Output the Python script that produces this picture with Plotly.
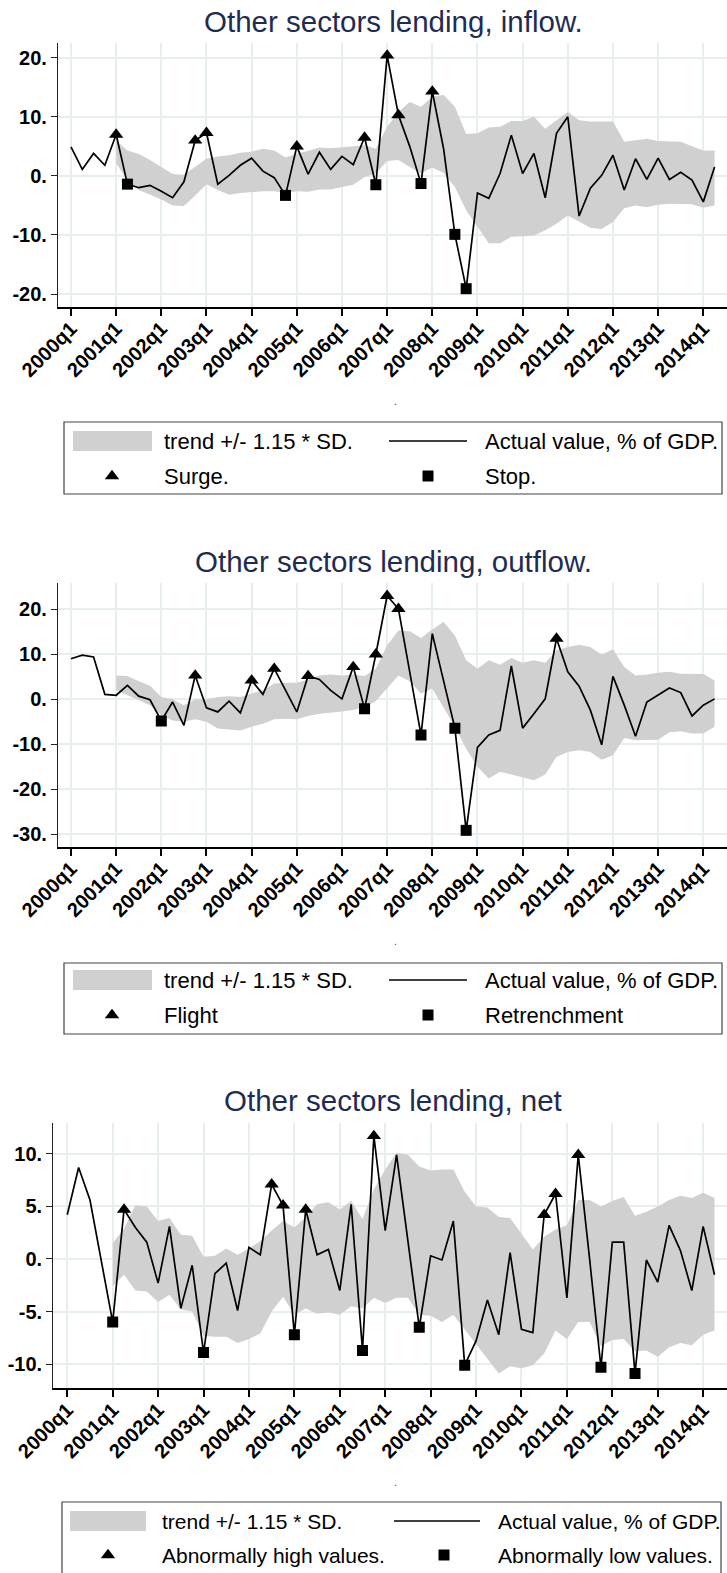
import plotly.graph_objects as go

W, H = 727, 1573

# quarterly periods 2000q1 .. 2014q2
quarters = [f"{yr}q{q}" for yr in range(2000, 2015) for q in range(1, 5)][:58]
year_ticks = ["2000q1", "2001q1", "2002q1", "2003q1", "2004q1", "2005q1", "2006q1",
              "2007q1", "2008q1", "2009q1", "2010q1", "2011q1", "2012q1", "2013q1", "2014q1"]
band_start = "2001q1"

# ---- Other sectors lending, inflow (% of GDP)
inflow_actual = [4.9, 1.1, 3.8, 1.8, 7.0, -1.4, -2.0, -1.6, -2.6, -3.7,
                 -1.0, 6.0, 7.3, -1.4, 0.1, 1.8, 3.0, 0.8, -0.3, -3.3,
                 5.0, 0.3, 4.0, 1.1, 3.3, 1.9, 6.5, -1.5, 20.4, 10.3,
                 5.0, -1.3, 14.3, 4.6, -9.9, -19.1, -2.9, -3.8, 0.4, 6.9,
                 0.4, 3.8, -3.7, 7.2, 10.0, -6.8, -2.1, 0.1, 3.5, -2.4,
                 2.9, -0.6, 3.0, -0.6, 0.6, -0.7, -4.4, 1.5]
inflow_upper = [6.0, 4.3, 3.7, 2.7, 1.5, 0.3, 0.2, 1.5, 2.9, 3.3,
                3.5, 3.9, 4.1, 4.6, 4.3, 3.1, 3.8, 4.2, 4.8, 4.7,
                4.9, 5.0, 5.2, 4.6, 8.3, 10.8, 12.5, 11.7, 13.4, 13.7,
                11.7, 7.1, 7.2, 8.2, 8.3, 9.3, 9.3, 10.0, 8.0, 9.4,
                10.8, 9.4, 9.2, 9.2, 9.2, 5.8, 6.0, 6.3, 5.9, 5.9,
                5.8, 5.0, 4.3, 4.3]
inflow_lower = [2.1, -0.7, -2.4, -3.2, -4.0, -5.0, -5.1, -3.3, -1.4, -2.4,
                -3.2, -2.9, -2.7, -2.6, -2.6, -2.9, -2.6, -2.7, -2.3, -2.3,
                -1.9, -1.5, -0.2, 0.4, 2.5, 2.7, 1.5, 0.4, 1.4, 0.5,
                -1.9, -5.8, -8.6, -11.4, -11.4, -10.3, -10.2, -10.1, -9.2, -8.1,
                -6.7, -7.8, -8.8, -9.0, -7.8, -5.5, -5.0, -5.3, -4.9, -4.7,
                -4.7, -4.8, -5.4, -5.0]
inflow_surge = ["2001q1", "2002q4", "2003q1", "2005q1", "2006q3", "2007q1", "2007q2", "2008q1"]
inflow_stop = ["2001q2", "2004q4", "2006q4", "2007q4", "2008q3", "2008q4"]

# ---- Other sectors lending, outflow (% of GDP)
outflow_actual = [9.0, 9.8, 9.4, 1.1, 0.9, 3.1, 0.7, -0.1, -4.8, -0.6,
                  -5.8, 5.3, -1.9, -2.8, -0.4, -3.0, 4.2, 1.1, 6.8, 1.9,
                  -2.8, 5.2, 4.4, 2.0, 0.1, 7.2, -2.1, 10.0, 23.0, 20.1,
                  6.1, -7.9, 14.6, 3.9, -6.4, -29.1, -10.7, -7.9, -6.9, 7.4,
                  -6.4, -3.2, 0.1, 13.5, 6.1, 2.9, -2.4, -10.1, 5.1, -1.3,
                  -8.2, -0.6, 0.9, 2.5, 1.5, -3.7, -1.3, 0.1]
outflow_upper = [5.3, 5.2, 4.0, 3.0, 0.5, 0.0, -1.3, 0.0, 0.0, 0.5,
                 0.7, 0.5, 1.3, 2.0, 3.5, 3.7, 3.7, 4.4, 5.3, 5.5,
                 5.3, 5.5, 5.2, 6.8, 12.0, 15.3, 15.1, 13.6, 15.5, 17.2,
                 14.2, 8.7, 6.8, 8.7, 7.7, 9.2, 8.1, 8.7, 8.1, 10.9,
                 11.6, 12.1, 11.6, 9.9, 11.1, 7.2, 5.3, 5.5, 5.9, 6.1,
                 5.7, 5.7, 5.6, 4.2]
outflow_lower = [2.0, 0.9, -0.2, -1.3, -3.6, -4.7, -5.0, -4.4, -5.0, -6.5,
                 -6.7, -6.9, -6.1, -5.4, -4.4, -4.3, -4.4, -3.7, -3.2, -3.0,
                 -2.7, -2.4, -1.7, -0.4, 2.5, 5.3, 4.0, 1.3, 2.4, -1.7,
                 -6.1, -11.0, -15.0, -17.6, -16.1, -16.7, -17.3, -18.0, -16.7, -12.8,
                 -11.7, -11.3, -11.7, -13.4, -12.4, -8.6, -9.1, -9.0, -9.0, -7.3,
                 -7.1, -7.6, -7.6, -6.1]
outflow_flight = ["2002q4", "2004q1", "2004q3", "2005q2", "2006q2", "2006q4",
                  "2007q1", "2007q2", "2010q4"]
outflow_retrench = ["2002q1", "2006q3", "2007q4", "2008q3", "2008q4"]

# ---- Other sectors lending, net (% of GDP)
net_actual = [4.2, 8.7, 5.6, -0.2, -6.0, 4.7, 3.0, 1.6, -2.3, 3.1,
              -4.7, -0.6, -8.9, -1.4, -0.4, -4.9, 1.1, 0.4, 7.1, 5.1,
              -7.2, 4.7, 0.4, 0.9, -3.0, 5.2, -8.7, 11.7, 2.7, 9.9,
              1.7, -6.5, 0.3, -0.1, 3.6, -10.1, -7.8, -3.9, -7.2, 0.6,
              -6.7, -7.0, 4.2, 6.2, -3.7, 9.9, 0.0, -10.3, 1.6, 1.6,
              -10.9, -0.1, -2.2, 3.2, 0.8, -3.0, 3.1, -1.5]
net_upper = [1.5, 2.9, 5.1, 5.0, 3.6, 3.9, 2.3, 2.2, 0.2, 0.3,
             1.0, 0.4, 1.0, 1.7, 2.7, 3.6, 3.0, 4.0, 5.2, 5.4,
             4.7, 5.5, 3.8, 6.6, 8.5, 10.1, 9.9, 8.8, 8.4, 8.5,
             8.5, 6.4, 5.0, 4.9, 4.0, 3.9, 2.4, 0.9, 2.1, 2.8,
             3.2, 5.6, 5.6, 5.0, 5.5, 5.9, 4.1, 4.5, 5.0, 5.6,
             6.0, 5.8, 6.3, 5.8]
net_lower = [-2.6, -1.5, -3.0, -3.1, -4.1, -3.4, -4.8, -5.0, -7.3, -7.4,
             -7.4, -8.0, -7.6, -7.1, -5.0, -3.6, -5.3, -4.7, -5.2, -5.1,
             -5.3, -4.5, -4.7, -3.7, -4.2, -3.7, -3.7, -5.3, -5.4, -6.0,
             -5.3, -6.7, -8.2, -9.6, -10.9, -10.2, -10.4, -10.1, -9.0, -6.8,
             -7.6, -6.0, -6.0, -8.3, -7.7, -7.6, -8.8, -8.7, -9.3, -8.4,
             -8.0, -8.2, -7.2, -6.8]
net_high = ["2001q2", "2004q3", "2004q4", "2005q2", "2006q4", "2010q3", "2010q4", "2011q2"]
net_low = ["2001q1", "2003q1", "2005q1", "2006q3", "2007q4", "2008q4", "2011q4", "2012q3"]

FONT = "Liberation Sans, Arial, sans-serif"
TITLE_COLOR = "#1f2c52"
GRID = "#e6eef0"
BAND = "#d0d0d0"

panels = [
    dict(title="Other sectors lending, inflow.", actual=inflow_actual, upper=inflow_upper,
         lower=inflow_lower, hi=inflow_surge, lo=inflow_stop, hi_name="Surge.", lo_name="Stop.",
         yticks=[-20, -10, 0, 10, 20], yrange=[-22.2, 22.5], ypx=(43, 307),
         xrange=[-1.15, 58.1], xpx=58, title_y=21,
         leg=dict(box=(64, 422, 722, 494), sw=(73, 152), line=(389, 467), c1=162, c2=483,
                  r1=441, r2=476, tri=112, sq=428, fs=22)),
    dict(title="Other sectors lending, outflow.", actual=outflow_actual, upper=outflow_upper,
         lower=outflow_lower, hi=outflow_flight, lo=outflow_retrench, hi_name="Flight",
         lo_name="Retrenchment",
         yticks=[-30, -20, -10, 0, 10, 20], yrange=[-32.8, 25.9], ypx=(582.7, 847),
         xrange=[-1.15, 58.1], xpx=58, title_y=561,
         leg=dict(box=(64, 963, 722, 1034), sw=(73, 152), line=(389, 467), c1=162, c2=483,
                  r1=980, r2=1015, tri=112, sq=428, fs=22)),
    dict(title="Other sectors lending, net", actual=net_actual, upper=net_upper,
         lower=net_lower, hi=net_high, lo=net_low, hi_name="Abnormally high values.",
         lo_name="Abnormally low values.",
         yticks=[-10, -5, 0, 5, 10], yrange=[-12.3, 12.9], ypx=(1123.3, 1388.3),
         xrange=[-1.23, 58.1], xpx=53.3, title_y=1100,
         leg=dict(box=(62, 1502, 721, 1580), sw=(70, 146), line=(394, 480), c1=160, c2=496,
                  r1=1521, r2=1555, tri=108, sq=444, fs=21)),
]


def fy(px):
    return 1 - px / H


def fx(px):
    return px / W


fig = go.Figure()
layout = dict(width=W, height=H, margin=dict(l=0, r=0, t=0, b=0, pad=0, autoexpand=False),
              paper_bgcolor="white", plot_bgcolor="rgba(0,0,0,0)", showlegend=False,
              font=dict(family=FONT, color="black"))
shapes, annotations = [], []

start = quarters.index(band_start)
for k, p in enumerate(panels, start=1):
    xa, ya = f"x{k}", f"y{k}"
    n = len(p["actual"])
    xs = list(range(n))
    xb = list(range(start, start + len(p["upper"])))

    fig.add_trace(go.Scatter(x=xb, y=p["upper"], mode="lines", line=dict(width=0),
                             xaxis=xa, yaxis=ya, hoverinfo="skip"))
    fig.add_trace(go.Scatter(x=xb, y=p["lower"], mode="lines", line=dict(width=0),
                             fill="tonexty", fillcolor=BAND, xaxis=xa, yaxis=ya,
                             name="trend +/- 1.15 * SD."))
    fig.add_trace(go.Scatter(x=xs, y=p["actual"], mode="lines",
                             line=dict(color="black", width=1.7),
                             xaxis=xa, yaxis=ya, name="Actual value, % of GDP."))
    hi_idx = [quarters.index(q) for q in p["hi"]]
    lo_idx = [quarters.index(q) for q in p["lo"]]
    fig.add_trace(go.Scatter(x=hi_idx, y=[p["actual"][i] for i in hi_idx], mode="markers",
                             marker=dict(symbol="triangle-up", size=12.5, color="black"),
                             xaxis=xa, yaxis=ya, name=p["hi_name"]))
    fig.add_trace(go.Scatter(x=lo_idx, y=[p["actual"][i] for i in lo_idx], mode="markers",
                             marker=dict(symbol="square", size=11, color="black"),
                             xaxis=xa, yaxis=ya, name=p["lo_name"]))

    sfx = "" if k == 1 else str(k)
    layout[f"xaxis{sfx}"] = dict(
        domain=[fx(p["xpx"]), 1], range=p["xrange"], anchor=ya, automargin=False,
        tickmode="array", tickvals=[quarters.index(t) for t in year_ticks],
        ticktext=year_ticks, tickangle=-45, ticklabelstandoff=-7,
        tickfont=dict(size=20, family=FONT, weight="bold"),
        showgrid=True, gridcolor=GRID, gridwidth=1.5, zeroline=False,
        showline=True, linecolor="black", linewidth=2.2,
        ticks="outside", ticklen=7, tickwidth=1.5, tickcolor="black")
    layout[f"yaxis{sfx}"] = dict(
        domain=[fy(p["ypx"][1]), fy(p["ypx"][0])], range=p["yrange"], anchor=xa,
        automargin=False,
        tickmode="array", tickvals=p["yticks"], ticktext=[f"{v}." for v in p["yticks"]],
        tickfont=dict(size=20, family=FONT, weight="bold"),
        showgrid=True, gridcolor=GRID, gridwidth=1.5, zeroline=False,
        showline=True, linecolor="#222222", linewidth=1.3,
        ticks="outside", ticklen=6, tickwidth=1.3, tickcolor="#222222")

    # panel title
    annotations.append(dict(text=p["title"], x=393, y=p["title_y"], xref="x4", yref="y4",
                            showarrow=False, xanchor="center", yanchor="middle",
                            font=dict(size=29.5, color=TITLE_COLOR, family=FONT)))
    # empty axis caption
    annotations.append(dict(text=".", x=395, y=p["ypx"][1] + 94, xref="x4", yref="y4",
                            showarrow=False, font=dict(size=10, color="#333333")))

    # legend block
    lg = p["leg"]
    bx0, by0, bx1, by1 = lg["box"]
    shapes.append(dict(type="rect", xref="x4", yref="y4", x0=bx0, y0=by0, x1=bx1, y1=by1,
                       line=dict(color="#444444", width=1.2), fillcolor="rgba(0,0,0,0)"))
    shapes.append(dict(type="rect", xref="x4", yref="y4", x0=lg["sw"][0], x1=lg["sw"][1],
                       y0=lg["r1"] - 10, y1=lg["r1"] + 10, line=dict(width=0), fillcolor=BAND))
    shapes.append(dict(type="line", xref="x4", yref="y4", x0=lg["line"][0], x1=lg["line"][1],
                       y0=lg["r1"], y1=lg["r1"], line=dict(color="black", width=1.7)))
    fig.add_trace(go.Scatter(x=[lg["tri"]], y=[lg["r2"]], mode="markers",
                             marker=dict(symbol="triangle-up", size=12.5, color="black"),
                             xaxis="x4", yaxis="y4", hoverinfo="skip"))
    fig.add_trace(go.Scatter(x=[lg["sq"]], y=[lg["r2"]], mode="markers",
                             marker=dict(symbol="square", size=11, color="black"),
                             xaxis="x4", yaxis="y4", hoverinfo="skip"))
    for txt, x, y in [("trend +/- 1.15 * SD.", lg["c1"], lg["r1"]),
                      ("Actual value, % of GDP.", lg["c2"], lg["r1"]),
                      (p["hi_name"], lg["c1"], lg["r2"]),
                      (p["lo_name"], lg["c2"], lg["r2"])]:
        annotations.append(dict(text=txt, x=x, y=y, xref="x4", yref="y4", showarrow=False,
                                xanchor="left", yanchor="middle",
                                font=dict(size=lg["fs"], color="black", family=FONT)))

# pixel-space overlay used for titles and legend blocks
layout["xaxis4"] = dict(domain=[0, 1], range=[0, W], visible=False, fixedrange=True,
                        automargin=False)
layout["yaxis4"] = dict(domain=[0, 1], range=[H, 0], visible=False, fixedrange=True,
                        automargin=False)
layout["shapes"] = shapes
layout["annotations"] = annotations
fig.update_layout(**layout)
fig.write_html("out.html")
